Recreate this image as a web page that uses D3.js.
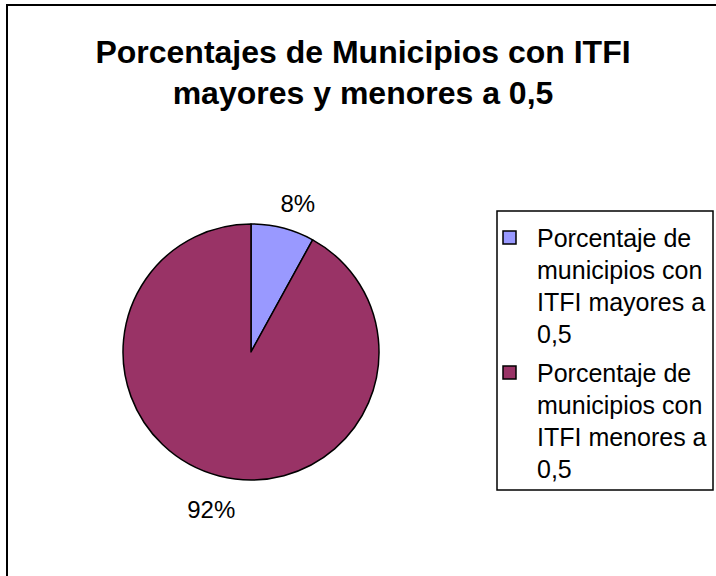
<!DOCTYPE html>
<html>
<head>
<meta charset="utf-8">
<title>Porcentajes de Municipios con ITFI</title>
<style>
    body {
        margin: 0;
        background-color: white;
        font-family: "Liberation Sans", Arial, sans-serif;
    }
    svg text {
        fill: black;
    }
</style>
</head>
<body>
<svg id="chart" width="716" height="576"></svg>
<script src="https://cdn.jsdelivr.net/npm/d3@7"></script>
<script>
    // datos
    var categorias = [
        "Porcentaje de municipios con ITFI mayores a 0,5",
        "Porcentaje de municipios con ITFI menores a 0,5"
    ];
    var valores = [8, 92];
    var etiquetas = ["8%", "92%"];
    var leyenda = [
        ["Porcentaje de", "municipios con", "ITFI mayores a", "0,5"],
        ["Porcentaje de", "municipios con", "ITFI menores a", "0,5"]
    ];
    var titulo = ["Porcentajes de Municipios con ITFI", "mayores y menores a 0,5"];

    var colores = ["#9999ff", "#993366"];

    var svg = d3.select("#chart");

    // marco (cortado a la derecha y abajo como en el original)
    svg.append("rect")
        .attr("x", 7)
        .attr("y", 5)
        .attr("width", 730)
        .attr("height", 600)
        .attr("fill", "white")
        .attr("stroke", "black")
        .attr("stroke-width", 2);

    // titulo
    svg.append("g")
        .selectAll("text")
        .data(titulo)
        .enter().append("text")
        .attr("x", 363)
        .attr("y", function(d, i) { return 63 + i * 41; })
        .attr("text-anchor", "middle")
        .style("font-size", "32px")
        .style("font-weight", "bold")
        .text(function(d) { return d; });

    // torta
    var cx = 251, cy = 352, r = 128;
    var pie = d3.pie().sort(null).value(function(d) { return d; });
    var arc = d3.arc().innerRadius(0).outerRadius(r);
    var labelArc = d3.arc().innerRadius(160).outerRadius(160);
    var arcs = pie(valores);

    var g = svg.append("g").attr("transform", "translate(" + cx + "," + cy + ")");

    g.selectAll("path")
        .data(arcs)
        .enter().append("path")
        .attr("d", arc)
        .attr("fill", function(d, i) { return colores[i]; })
        .attr("stroke", "black")
        .attr("stroke-width", 1.5)
        .attr("stroke-linejoin", "round");

    g.selectAll("text.label")
        .data(arcs)
        .enter().append("text")
        .attr("class", "label")
        .attr("transform", function(d) {
            var c = labelArc.centroid(d);
            // las etiquetas de Excel quedan corridas hacia afuera
            return "translate(" + (c[0] + (c[1] < 0 ? 7 : 0)) + "," + (c[1] + (c[1] < 0 ? 7 : 3)) + ")";
        })
        .attr("text-anchor", "middle")
        .attr("dy", "0.35em")
        .style("font-size", "24px")
        .text(function(d, i) { return etiquetas[i]; });

    // leyenda
    var lx = 497, ly = 211, lw = 216, lh = 279;
    svg.append("rect")
        .attr("x", lx)
        .attr("y", ly)
        .attr("width", lw)
        .attr("height", lh)
        .attr("fill", "white")
        .attr("stroke", "black")
        .attr("stroke-width", 1.5);

    var lineH = 32, itemGap = 135;
    var items = svg.append("g")
        .selectAll("g")
        .data(categorias)
        .enter().append("g")
        .attr("transform", function(d, i) { return "translate(" + lx + "," + (ly + 36 + i * itemGap) + ")"; });

    items.append("rect")
        .attr("x", 6)
        .attr("y", -16)
        .attr("width", 13)
        .attr("height", 13)
        .attr("fill", function(d, i) { return colores[i]; })
        .attr("stroke", "black")
        .attr("stroke-width", 1.5);

    items.each(function(d, i) {
        d3.select(this).selectAll("text")
            .data(leyenda[i])
            .enter().append("text")
            .attr("x", 40)
            .attr("y", function(t, j) { return j * lineH; })
            .style("font-size", "25px")
            .text(function(t) { return t; });
    });
</script>
</body>
</html>
